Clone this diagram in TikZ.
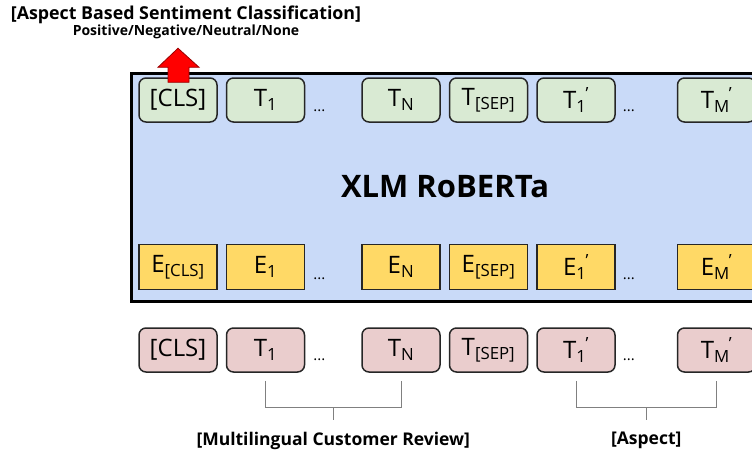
\documentclass[tikz,border=0pt]{standalone}
\usepackage{fontspec}
\setmainfont{Open Sans}
\usepackage{xcolor}
\usetikzlibrary{positioning,calc}

\definecolor{modelblue}{HTML}{C9DAF8}
\definecolor{outgreen}{HTML}{D9EAD3}
\definecolor{embyellow}{HTML}{FFD966}
\definecolor{inpink}{HTML}{EACDCD}

\newcommand{\primetok}[2]{#1\textsubscript{#2}\kern-1pt\textsuperscript{'}}

\begin{document}
\begin{tikzpicture}[x=1pt,y=-1pt,node distance=8pt,
            tok node/.style={draw=black!85,line width=1.5pt,rounded corners=7pt,
              minimum width=78pt,minimum height=44pt,inner sep=0pt,
              font=\fontsize{24}{28}\selectfont},
            out node/.style={tok node,fill=outgreen},
            emb node/.style={tok node,rounded corners=0pt,fill=embyellow,minimum height=45pt},
            in node/.style={tok node,fill=inpink},
            ellipsis/.style={anchor=south west,inner sep=0pt,font=\fontsize{15}{15}\selectfont},
            bracket/.style={draw=black!50,line width=1pt},
            group label/.style={font=\fontsize{17.5}{20}\selectfont\bfseries}]

        \clip (0,0) rectangle (752,455);

        % model box
        \draw[line width=3pt,fill=modelblue] (131,73) rectangle (780,301);
        \node[font=\fontsize{31}{36}\selectfont\bfseries] (xlm) at (445,187) {XLM RoBERTa};

        % output tokens
        \node[out node] (clsout) at (178,100) {[CLS]};
        \node[out node] (t1out) [right=of clsout] {T\textsubscript{1}};
        \node[out node] (tnout) [right=56pt of t1out] {T\textsubscript{N}};
        \node[out node] (sepout) [right=of tnout] {T\textsubscript{[SEP]}};
        \node[out node] (t1pout) [right=of sepout] {\primetok{T}{1}};
        \node[out node] (tmpout) [right=61pt of t1pout] {\primetok{T}{M}};
        \node[ellipsis] at ([xshift=8pt,yshift=11pt]t1out.south east) {...};
        \node[ellipsis] at ([xshift=7pt,yshift=11pt]t1pout.south east) {...};

        % embeddings
        \node[emb node] (ecls) at (178,267) {E\textsubscript{[CLS]}};
        \node[emb node] (e1) [right=of ecls] {E\textsubscript{1}};
        \node[emb node] (en) [right=56pt of e1] {E\textsubscript{N}};
        \node[emb node] (esep) [right=of en] {E\textsubscript{[SEP]}};
        \node[emb node] (e1p) [right=of esep] {\primetok{E}{1}};
        \node[emb node] (emp) [right=61pt of e1p] {\primetok{E}{M}};
        \node[ellipsis] at ([xshift=8pt,yshift=10pt]e1.south east) {...};
        \node[ellipsis] at ([xshift=7pt,yshift=10pt]e1p.south east) {...};

        % input tokens
        \node[in node] (clsin) at (178,350) {[CLS]};
        \node[in node] (t1in) [right=of clsin] {T\textsubscript{1}};
        \node[in node] (tnin) [right=56pt of t1in] {T\textsubscript{N}};
        \node[in node] (sepin) [right=of tnin] {T\textsubscript{[SEP]}};
        \node[in node] (t1pin) [right=of sepin] {\primetok{T}{1}};
        \node[in node] (tmpin) [right=61pt of t1pin] {\primetok{T}{M}};
        \node[ellipsis] at ([xshift=8pt,yshift=12pt]t1in.south east) {...};
        \node[ellipsis] at ([xshift=7pt,yshift=12pt]t1pin.south east) {...};

        % classification output
        \node[font=\fontsize{17.8}{20}\selectfont\bfseries] (task) at (186,15) {[Aspect Based Sentiment Classification]};
        \node[font=\fontsize{14}{16}\selectfont\bfseries] (labels) at (186,32) {Positive/Negative/Neutral/None};
        \draw[fill=red,draw=red!60!black,line width=0.8pt] ([yshift=-5pt]clsout.north) ++(-10,0)
            -- ++(0,-15) -- ++(-10,0) -- ++(20,-19) -- ++(21,19) -- ++(-10,0) -- ++(0,15) -- cycle;

        % groups of input tokens
        \coordinate (revmid) at ($(t1in.south)!0.5!(tnin.south)+(0,35)$);
        \coordinate (aspmid) at ($(t1pin.south)!0.5!(tmpin.south)+(0,35)$);
        \draw[bracket] ([yshift=-8pt]t1in.south) -- ++(0,27) -| ([yshift=-8pt]tnin.south);
        \draw[bracket] ([yshift=-8pt]t1pin.south) -- ++(0,27) -| ([yshift=-8pt]tmpin.south);
        \draw[bracket] (revmid) -- ++(0,12);
        \draw[bracket] (aspmid) -- ++(0,12);
        \node[group label] (review) at ([yshift=-33pt]revmid) {[Multilingual Customer Review]};
        \node[group label] (aspect) at ([yshift=-33pt]aspmid) {[Aspect]};

    \end{tikzpicture}
\end{document}
